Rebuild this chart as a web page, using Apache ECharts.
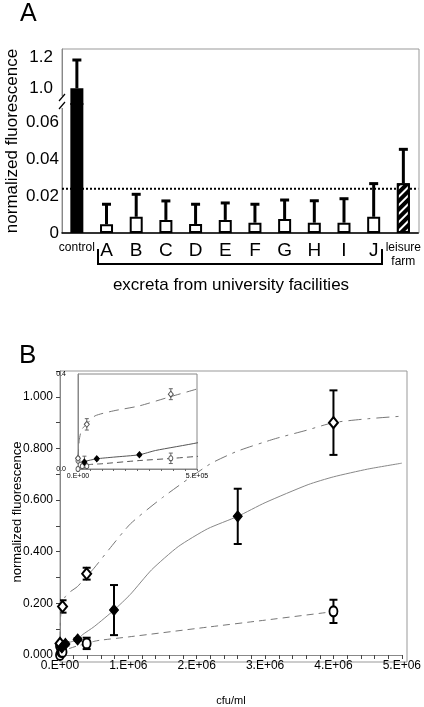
<!DOCTYPE html>
<html><head><meta charset="utf-8">
<script src="https://cdn.jsdelivr.net/npm/echarts@6/dist/echarts.min.js"></script>
<style>html,body{margin:0;padding:0;background:#fff}#c{width:424px;height:707px}</style>
</head><body><div id="c"></div>
<script>
// ---------- Panel A data ----------
const categories = ['control','A','B','C','D','E','F','G','H','I','J','leisure farm'];
const meanValues = [1.0,0.0047,0.0088,0.0071,0.0049,0.0071,0.0056,0.0076,0.0056,0.0056,0.0088,0.027];
const errorTops  = [1.18,0.0156,0.021,0.0174,0.0156,0.0163,0.0156,0.0179,0.0175,0.0186,0.0268,0.0454];
const thresholdValue = 0.024;
const lowerTicks = [0,0.02,0.04,0.06];
const upperTicks = [1.0,1.2];

// ---------- Panel B data ----------
const openDiamondX   = [0, 37000, 390000, 4000000];
const openDiamondY   = [0.045, 0.188, 0.315, 0.90];
const openDiamondErr = [0.008, 0.024, 0.023, 0.125];
const filledDiamondX   = [27000, 79000, 258000, 790000, 2600000];
const filledDiamondY   = [0.029, 0.043, 0.06, 0.174, 0.537];
const filledDiamondErr = [0.025, 0.006, 0.005, 0.097, 0.107];
const openCircleX   = [0, 0, 18000, 37000, 390000, 4000000];
const openCircleY   = [0.0, 0.035, 0.012, 0.012, 0.045, 0.169];
const openCircleErr = [0, 0, 0, 0, 0.022, 0.045];
const fitOpenDiamond = [[0,0.04],[5000,0.12],[15000,0.165],[37000,0.19],[72000,0.224],[150000,0.245],[255000,0.265],[390000,0.305],[500000,0.337],[720000,0.41],[1030000,0.508],[1500000,0.61],[2190000,0.739],[2600000,0.79],[3150000,0.838],[3600000,0.87],[4000000,0.90],[4500000,0.915],[5000000,0.925]];
const fitFilledDiamond = [[0,0.025],[27000,0.032],[79000,0.043],[150000,0.05],[258000,0.06],[326000,0.078],[500000,0.11],[790000,0.174],[1030000,0.235],[1340000,0.33],[1730000,0.42],[2160000,0.489],[2600000,0.537],[3000000,0.59],[3630000,0.66],[4000000,0.69],[4500000,0.72],[5000000,0.743]];
const fitOpenCircle = [[0,0.0],[44000,0.018],[100000,0.022],[250000,0.035],[400000,0.045],[500000,0.053],[580000,0.057],[1000000,0.07],[2160000,0.108],[3000000,0.135],[4000000,0.168]];
const bXLabels = [0,1000000,2000000,3000000,4000000,5000000];
const bYLabels = [0,0.2,0.4,0.6,0.8,1.0];
const insetXLabels = [0,500000];
const insetYLabels = [0,0.4];

const FONT = 'Liberation Sans, Arial, sans-serif';
const NARROW = 'Liberation Sans Narrow, Liberation Sans, Arial, sans-serif';

const zip3 = (xs, ys, es) => xs.map((x,i)=>[x, ys[i], es[i]]);

function errRender(capW, lw, color, upOnly){
  return function(params, api){
    const x = api.value(0), y = api.value(1), e = api.value(2);
    if(!(e > 0)) return null;
    const lo = upOnly ? y : y - e;
    const hi = upOnly ? e : y + e;
    const p1 = api.coord([x, lo]), p2 = api.coord([x, hi]);
    const st = {stroke: color, lineWidth: lw};
    const ch = [
      {type:'line', shape:{x1:p1[0],y1:p1[1],x2:p2[0],y2:p2[1]}, style:st},
      {type:'line', shape:{x1:p2[0]-capW/2,y1:p2[1],x2:p2[0]+capW/2,y2:p2[1]}, style:st}
    ];
    if(!upOnly) ch.push({type:'line', shape:{x1:p1[0]-capW/2,y1:p1[1],x2:p1[0]+capW/2,y2:p1[1]}, style:st});
    return {type:'group', children: ch};
  };
}

const barData = meanValues.map((v,i)=>{
  const item = {value: v};
  if(i === 0) item.itemStyle = {color:'#000'};
  else if(i === categories.length-1) item.itemStyle = {color:'#000', decal:{symbol:'rect', symbolSize:1, color:'#fff', dashArrayX:[1,0], dashArrayY:[2,4], rotation: -Math.PI/4}};
  return item;
});
const errA = meanValues.map((v,i)=>[i, v, errorTops[i]]);
const thresholdLine = categories.map(c => thresholdValue);

const fmtA = v => v === 0 ? '0' : (v >= 1 ? v.toFixed(1) : v.toFixed(2));

const chart = echarts.init(document.getElementById('c'), null, {renderer:'canvas'});
const option = {
  animation: false,
  backgroundColor: '#fff',
  grid: [
    {left:62, right:5, top:49, height:55},
    {left:62, right:5, top:104, bottom:474},
    {left:60, right:17, top:371, bottom:45},
    {left:78, right:227, top:374, bottom:238, show:true, backgroundColor:'#fff', borderColor:'#888', borderWidth:1, z:5}
  ],
  xAxis: [
    {gridIndex:0, type:'category', data:categories, show:false},
    {gridIndex:1, type:'category', data:categories,
      axisLine:{lineStyle:{color:'#000', width:1.5}}, axisTick:{show:false},
      axisLabel:{interval:0, margin:8, color:'#000', fontFamily:FONT,
        formatter: v => v === 'control' ? '{s|control}' : (v === 'leisure farm' ? '{s|leisure}\n{s|farm}' : '{b|'+v+'}'),
        rich:{s:{fontSize:12, lineHeight:14, fontFamily:FONT, color:'#000'}, b:{fontSize:19, lineHeight:20, fontFamily:FONT, color:'#000'}}}},
    {gridIndex:1, type:'value', min:0, max:1, show:false},
    {gridIndex:2, type:'value', min:0, max:5000000, interval:200000,
      axisLine:{lineStyle:{color:'#888'}}, axisTick:{length:4, lineStyle:{color:'#444'}},
      splitLine:{show:false},
      axisLabel:{customValues:bXLabels, margin:5, fontSize:12, fontFamily:NARROW, color:'#000',
        formatter: v => v === 0 ? '0.E+00' : Math.round(v/1e6)+'.E+06'},
      name:'cfu/ml', nameLocation:'middle', nameGap:40, nameTextStyle:{fontSize:11, fontFamily:NARROW, color:'#000'}},
    {gridIndex:3, type:'value', min:0, max:500000, interval:50000,
      axisLine:{lineStyle:{color:'#888'}}, axisTick:{length:2, lineStyle:{color:'#666'}},
      splitLine:{show:false}, z:6,
      axisLabel:{customValues:insetXLabels, margin:4, fontSize:7, fontFamily:NARROW, color:'#000',
        formatter: v => v === 0 ? '0.E+00' : Math.round(v/1e5)+'.E+05'}}
  ],
  yAxis: [
    {gridIndex:0, type:'value', min:0.9, max:1.25, interval:0.1,
      axisLine:{show:true, lineStyle:{color:'#888'}}, axisTick:{customValues:upperTicks, length:4, lineStyle:{color:'#888'}},
      splitLine:{show:false},
      axisLabel:{customValues:upperTicks, margin:9, fontSize:17, fontFamily:FONT, color:'#000', formatter:fmtA}},
    {gridIndex:1, type:'value', min:0, max:0.07, interval:0.01,
      axisLine:{show:true, lineStyle:{color:'#888'}}, axisTick:{show:false},
      splitLine:{show:false},
      axisLabel:{customValues:lowerTicks, margin:3, fontSize:17, fontFamily:FONT, color:'#000', formatter:fmtA}},
    {gridIndex:2, type:'value', min:0, max:1.1, interval:0.1,
      axisLine:{show:true, lineStyle:{color:'#888'}}, axisTick:{length:4, lineStyle:{color:'#444'}},
      splitLine:{show:false},
      axisLabel:{customValues:bYLabels, margin:7, fontSize:12, fontFamily:NARROW, color:'#000', formatter: v => v.toFixed(3)}},
    {gridIndex:3, type:'value', min:0, max:0.4, interval:0.1,
      axisLine:{show:true, lineStyle:{color:'#888'}}, axisTick:{show:false},
      splitLine:{show:false}, z:6,
      axisLabel:{customValues:insetYLabels, margin:12, fontSize:7, fontFamily:NARROW, color:'#000', formatter: v => v.toFixed(1)}}
  ],
  series: [
    // Panel A bars
    {type:'bar', xAxisIndex:0, yAxisIndex:0, data:barData, barWidth:13, clip:true,
      itemStyle:{color:'#fff', borderColor:'#000', borderWidth:2}},
    {type:'bar', xAxisIndex:1, yAxisIndex:1, data:barData, barWidth:13, clip:true,
      itemStyle:{color:'#fff', borderColor:'#000', borderWidth:2}},
    // threshold dotted line across the full plot width (secondary value x-axis spanning the grid)
    {type:'line', xAxisIndex:2, yAxisIndex:1, data:[[0,thresholdValue],[1,thresholdValue]], symbol:'none', z:1,
      lineStyle:{color:'#000', type:[2,2], width:2}},
    {type:'custom', xAxisIndex:0, yAxisIndex:0, data:errA, clip:true, z:3, renderItem: errRender(9, 3, '#000', true), encode:{x:0,y:1}},
    {type:'custom', xAxisIndex:1, yAxisIndex:1, data:errA, clip:true, z:3, renderItem: errRender(9, 3, '#000', true), encode:{x:0,y:1}},
    // Panel B main
    {type:'line', xAxisIndex:3, yAxisIndex:2, data:fitOpenDiamond, symbol:'none', smooth:0.2, clip:true,
      lineStyle:{color:'#777', width:1, type:[13,6,3,6]}},
    {type:'line', xAxisIndex:3, yAxisIndex:2, data:fitFilledDiamond, symbol:'none', smooth:0.2, clip:true,
      lineStyle:{color:'#888', width:1}},
    {type:'line', xAxisIndex:3, yAxisIndex:2, data:fitOpenCircle, symbol:'none', smooth:0.2, clip:true,
      lineStyle:{color:'#777', width:1, type:[7,5]}},
    {type:'custom', xAxisIndex:3, yAxisIndex:2, data:zip3(openDiamondX,openDiamondY,openDiamondErr), clip:true, z:3, renderItem: errRender(8, 2, '#000', false), encode:{x:0,y:1}},
    {type:'custom', xAxisIndex:3, yAxisIndex:2, data:zip3(filledDiamondX,filledDiamondY,filledDiamondErr), clip:true, z:3, renderItem: errRender(8, 2, '#000', false), encode:{x:0,y:1}},
    {type:'custom', xAxisIndex:3, yAxisIndex:2, data:zip3(openCircleX,openCircleY,openCircleErr), clip:true, z:3, renderItem: errRender(8, 2, '#000', false), encode:{x:0,y:1}},
    {type:'scatter', xAxisIndex:3, yAxisIndex:2, data:openCircleX.map((x,i)=>[x,openCircleY[i]]), symbol:'circle', symbolSize:[8,10], z:4,
      itemStyle:{color:'#fff', borderColor:'#000', borderWidth:2, opacity:1}},
    {type:'scatter', xAxisIndex:3, yAxisIndex:2, data:openDiamondX.map((x,i)=>[x,openDiamondY[i]]), symbol:'diamond', symbolSize:[9,11], z:4,
      itemStyle:{color:'#fff', borderColor:'#000', borderWidth:2, opacity:1}},
    {type:'scatter', xAxisIndex:3, yAxisIndex:2, data:filledDiamondX.map((x,i)=>[x,filledDiamondY[i]]), symbol:'diamond', symbolSize:[9,11], z:4,
      itemStyle:{color:'#000', borderColor:'#000', borderWidth:1, opacity:1}},
    // Panel B inset
    {type:'line', xAxisIndex:4, yAxisIndex:3, data:fitOpenDiamond, symbol:'none', smooth:0.2, clip:true, z:7,
      lineStyle:{color:'#777', width:1, type:[10,6]}},
    {type:'line', xAxisIndex:4, yAxisIndex:3, data:fitFilledDiamond, symbol:'none', smooth:0.2, clip:true, z:7,
      lineStyle:{color:'#555', width:1}},
    {type:'line', xAxisIndex:4, yAxisIndex:3, data:fitOpenCircle, symbol:'none', smooth:0.2, clip:true, z:7,
      lineStyle:{color:'#555', width:1, type:[6,4]}},
    {type:'custom', xAxisIndex:4, yAxisIndex:3, data:zip3(openDiamondX,openDiamondY,openDiamondErr), clip:true, z:8, renderItem: errRender(4, 1, '#666', false), encode:{x:0,y:1}},
    {type:'custom', xAxisIndex:4, yAxisIndex:3, data:zip3(filledDiamondX,filledDiamondY,filledDiamondErr), clip:true, z:8, renderItem: errRender(4, 1, '#666', false), encode:{x:0,y:1}},
    {type:'custom', xAxisIndex:4, yAxisIndex:3, data:zip3(openCircleX,openCircleY,openCircleErr), clip:true, z:8, renderItem: errRender(4, 1, '#666', false), encode:{x:0,y:1}},
    {type:'scatter', xAxisIndex:4, yAxisIndex:3, data:openCircleX.map((x,i)=>[x,openCircleY[i]]), symbol:'circle', symbolSize:[4,5], z:9, clip:true,
      itemStyle:{color:'#fff', borderColor:'#555', borderWidth:1, opacity:1}},
    {type:'scatter', xAxisIndex:4, yAxisIndex:3, data:openDiamondX.map((x,i)=>[x,openDiamondY[i]]), symbol:'diamond', symbolSize:[5,6], z:9, clip:true,
      itemStyle:{color:'#fff', borderColor:'#555', borderWidth:1, opacity:1}},
    {type:'scatter', xAxisIndex:4, yAxisIndex:3, data:filledDiamondX.map((x,i)=>[x,filledDiamondY[i]]), symbol:'diamond', symbolSize:[5,6], z:9, clip:true,
      itemStyle:{color:'#000', borderColor:'#000', borderWidth:1, opacity:1}}
  ],
  graphic: [
    {type:'rect', shape:{x:62, y:49, width:357, height:184}, style:{fill:'none', stroke:'#999', lineWidth:1}, z:0, silent:true},
    {type:'rect', shape:{x:60, y:371, width:347, height:291}, style:{fill:'none', stroke:'#999', lineWidth:1}, z:0, silent:true},
    {type:'rect', shape:{x:58, y:96, width:8, height:12}, style:{fill:'#fff'}, z:10},
    {type:'line', shape:{x1:59, y1:101, x2:65, y2:94}, style:{stroke:'#000', lineWidth:1.2}, z:11},
    {type:'line', shape:{x1:59, y1:109, x2:65, y2:102}, style:{stroke:'#000', lineWidth:1.2}, z:11},
    {type:'polyline', shape:{points:[[98,249],[98,264],[382,264],[382,249]]}, style:{fill:'none', stroke:'#000', lineWidth:2}, z:10},
    {type:'text', left:20, top:2, style:{text:'A', fontSize:25, fontFamily:FONT, fill:'#000'}},
    {type:'text', left:19, top:343, style:{text:'B', fontSize:26, fontFamily:FONT, fill:'#000'}},
    {type:'text', x:12, y:141, rotation:Math.PI/2, style:{text:'normalized fluorescence', fontSize:17, fontFamily:FONT, fill:'#000', align:'center', verticalAlign:'middle'}},
    {type:'text', x:17, y:512, rotation:Math.PI/2, style:{text:'normalized fluorescence', fontSize:13, fontFamily:NARROW, fill:'#000', align:'center', verticalAlign:'middle'}},
    {type:'text', x:231, y:285, style:{text:'excreta from university facilities', fontSize:17, fontFamily:FONT, fill:'#000', align:'center', verticalAlign:'middle'}}
  ]
};
chart.setOption(option);
</script>
</body></html>
